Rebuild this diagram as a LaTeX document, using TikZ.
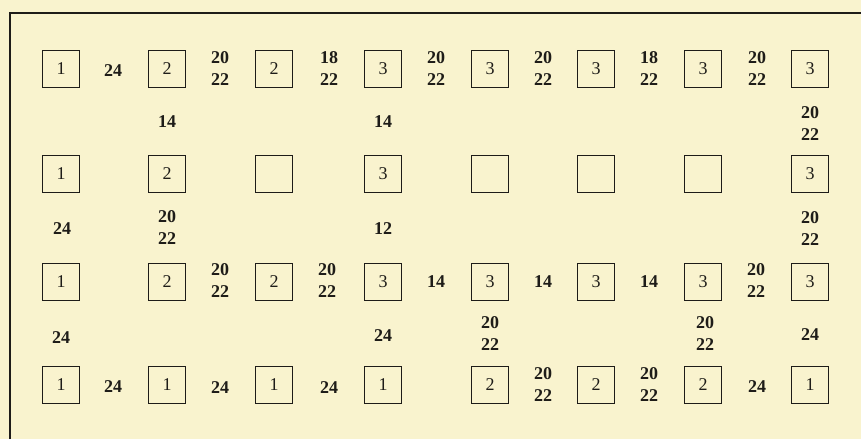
\documentclass[tikz,border=0pt]{standalone}
\usepackage{fontspec}
\setmainfont{Liberation Serif}
\definecolor{paper}{RGB}{249,243,206}
\definecolor{ink}{RGB}{30,28,24}
\begin{document}
\begin{tikzpicture}[x=1pt,y=-1pt,
  cell/.style={draw=ink,line width=1.8pt,minimum size=37pt,inner sep=0pt,font=\fontsize{18}{20}\selectfont,text=ink},
  lab/.style={inner sep=0pt,align=center,font=\fontsize{18}{22}\selectfont\bfseries,text=ink},
  frameline/.style={draw=ink,line width=2pt}]
\fill[paper] (0,0) rectangle (861,439);
\useasboundingbox (0,0) rectangle (861,439);
\coordinate (fb) at (10,439);
\coordinate (fc) at (10,13);
\coordinate (fr) at (861,13);
\draw[frameline] (fb) -- (fc) -- (fr);
% row 1
\node[cell] (a1) at (61,69) {1};
\node[cell] (a2) at (167,69) {2};
\node[cell] (a3) at (274,69) {2};
\node[cell] (a4) at (383,69) {3};
\node[cell] (a5) at (490,69) {3};
\node[cell] (a6) at (596,69) {3};
\node[cell] (a7) at (703,69) {3};
\node[cell] (a8) at (810,69) {3};
\node[lab] (la1) at (113,71) {24};
\node[lab] (la2) at (220,69) {20\\22};
\node[lab] (la3) at (329,69) {18\\22};
\node[lab] (la4) at (436,69) {20\\22};
\node[lab] (la5) at (543,69) {20\\22};
\node[lab] (la6) at (649,69) {18\\22};
\node[lab] (la7) at (757,69) {20\\22};
% between rows 1-2
\node[lab] (lab2) at (167,122) {14};
\node[lab] (lab4) at (383,122) {14};
\node[lab] (lab8) at (810,124) {20\\22};
% row 2
\node[cell] (b1) at (61,174) {1};
\node[cell] (b2) at (167,174) {2};
\node[cell] (b3) at (274,174) {};
\node[cell] (b4) at (383,174) {3};
\node[cell] (b5) at (490,174) {};
\node[cell] (b6) at (596,174) {};
\node[cell] (b7) at (703,174) {};
\node[cell] (b8) at (810,174) {3};
% between rows 2-3
\node[lab] (lbc1) at (62,229) {24};
\node[lab] (lbc2) at (167,228) {20\\22};
\node[lab] (lbc4) at (383,229) {12};
\node[lab] (lbc8) at (810,229) {20\\22};
% row 3
\node[cell] (c1) at (61,282) {1};
\node[cell] (c2) at (167,282) {2};
\node[cell] (c3) at (274,282) {2};
\node[cell] (c4) at (383,282) {3};
\node[cell] (c5) at (490,282) {3};
\node[cell] (c6) at (596,282) {3};
\node[cell] (c7) at (703,282) {3};
\node[cell] (c8) at (810,282) {3};
\node[lab] (lc2) at (220,281) {20\\22};
\node[lab] (lc3) at (327,281) {20\\22};
\node[lab] (lc4) at (436,282) {14};
\node[lab] (lc5) at (543,282) {14};
\node[lab] (lc6) at (649,282) {14};
\node[lab] (lc7) at (756,281) {20\\22};
% between rows 3-4
\node[lab] (lcd1) at (61,338) {24};
\node[lab] (lcd4) at (383,336) {24};
\node[lab] (lcd5) at (490,334) {20\\22};
\node[lab] (lcd7) at (705,334) {20\\22};
\node[lab] (lcd8) at (810,335) {24};
% row 4
\node[cell] (d1) at (61,385) {1};
\node[cell] (d2) at (167,385) {1};
\node[cell] (d3) at (274,385) {1};
\node[cell] (d4) at (383,385) {1};
\node[cell] (d5) at (490,385) {2};
\node[cell] (d6) at (596,385) {2};
\node[cell] (d7) at (703,385) {2};
\node[cell] (d8) at (810,385) {1};
\node[lab] (ld1) at (113,387) {24};
\node[lab] (ld2) at (220,388) {24};
\node[lab] (ld3) at (329,388) {24};
\node[lab] (ld5) at (543,385) {20\\22};
\node[lab] (ld6) at (649,385) {20\\22};
\node[lab] (ld7) at (757,387) {24};
\end{tikzpicture}
\end{document}
